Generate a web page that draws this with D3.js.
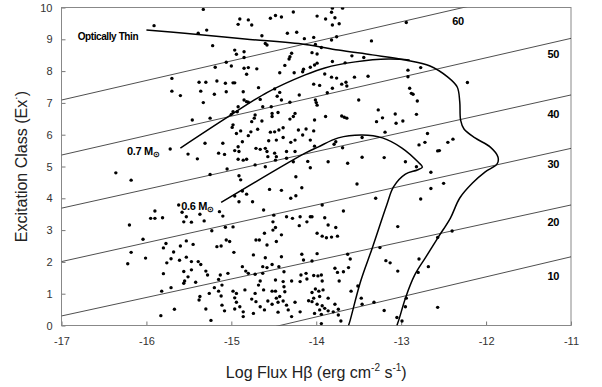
<!DOCTYPE html>
<html>
<head>
<meta charset="utf-8">
<script src="https://cdn.jsdelivr.net/npm/d3@7"></script>
<style>
  body { margin: 0; background: #fff; }
  text { font-family: "Liberation Sans", Arial, sans-serif; }
</style>
</head>
<body>
<div id="chart"></div>
<script>
// Excitation class vs log H-beta flux, with iso-temperature lines and tracks

const width = 602;
const height = 387;

const xTicks = [-17, -16, -15, -14, -13, -12, -11];
const yTicks = [0, 1, 2, 3, 4, 5, 6, 7, 8, 9, 10];

// iso lines: [label, y at x=-17, y at x=-11]
const isoLabels = ["10", "20", "30", "40", "50", "60"];
const isoStart = [-1.62, 0.30, 2.01, 3.69, 5.36, 7.09];
const isoEnd = [2.16, 3.79, 5.57, 7.25, 9.03, 10.78];
// where each iso label sits (data coords)
const isoLabelPos = [[-11.21, 1.56], [-11.21, 3.26], [-11.21, 5.08], [-11.21, 6.65], [-11.21, 8.54], [-12.33, 9.58]];

// optically thin boundary and its loop
const thinCurve = [
  [-16.00, 9.29], [-15.55, 9.19], [-14.84, 9.01], [-14.13, 8.84], [-13.74, 8.66],
  [-13.34, 8.51], [-12.95, 8.35], [-12.66, 8.16], [-12.45, 7.81], [-12.34, 7.50],
  [-12.31, 7.03], [-12.30, 6.46], [-12.26, 6.18], [-12.13, 5.90], [-11.95, 5.61],
  [-11.86, 5.30], [-11.87, 5.08], [-12.01, 4.83], [-12.16, 4.48], [-12.31, 4.01],
  [-12.42, 3.38], [-12.57, 2.75], [-12.71, 2.15], [-12.84, 1.59], [-12.95, 0.86],
  [-13.02, 0.24], [-13.05, 0.00]
];
const track07 = [
  [-15.60, 5.58], [-15.04, 6.56], [-14.57, 7.34], [-14.13, 7.88], [-13.90, 8.10],
  [-13.54, 8.29], [-13.15, 8.38], [-12.90, 8.35]
];
const track06 = [
  [-15.12, 3.87], [-14.13, 5.42], [-13.98, 5.61], [-13.74, 5.90], [-13.46, 5.99],
  [-13.22, 5.90], [-12.99, 5.58], [-12.80, 5.14], [-12.75, 4.98], [-12.81, 4.89],
  [-12.95, 4.76], [-13.09, 4.36], [-13.17, 3.79], [-13.34, 2.44], [-13.48, 1.37],
  [-13.60, 0.17], [-13.62, 0.00]
];

// observed nebulae [log flux, excitation class]
const nebulae = [
  [-15.91,9.43],[-15.70,7.77],[-15.70,7.37],[-15.60,7.23],[-15.72,5.55],[-15.51,5.39],
  [-16.36,4.80],[-16.18,4.57],[-15.62,3.79],[-15.58,3.56],[-15.53,3.42],[-15.56,3.26],
  [-15.90,3.60],[-15.95,3.37],[-15.90,3.37],[-15.81,3.39],[-16.20,3.16],[-16.04,2.71],
  [-15.77,2.58],[-15.80,2.44],[-15.53,2.66],[-15.60,2.50],[-15.68,2.31],[-16.18,2.30],
  [-16.01,2.12],[-16.22,1.94],[-15.71,2.10],[-15.76,1.97],[-15.61,2.05],[-15.53,2.15],
  [-15.80,1.63],[-15.56,1.70],[-15.51,1.53],[-15.55,1.40],[-15.56,1.33],[-15.71,1.19],
  [-15.82,1.08],[-15.67,0.51],[-15.83,0.31],
  [-15.33,9.94],[-14.90,9.64],[-14.92,9.47],[-14.80,9.61],[-14.76,9.45],[-14.54,9.66],
  [-14.48,9.75],[-14.41,9.70],[-14.27,9.86],[-15.39,9.19],[-15.29,9.29],[-14.64,9.11],
  [-14.60,8.87],[-14.58,8.82],[-14.34,9.19],[-14.23,9.22],[-14.14,9.02],[-15.22,8.80],
  [-14.96,8.66],[-14.94,8.53],[-14.85,8.61],[-14.85,8.43],[-14.29,8.56],[-14.31,8.45],
  [-14.32,8.38],[-14.37,8.18],[-15.06,8.28],[-15.19,8.12],[-15.00,8.16],[-14.85,8.09],
  [-14.80,8.11],[-14.82,7.90],[-14.70,8.07],[-14.43,7.95],[-14.26,7.95],[-14.15,8.06],
  [-14.16,7.98],[-15.38,7.65],[-15.30,7.65],[-15.17,7.69],[-15.07,7.62],[-14.98,7.63],
  [-14.96,7.63],[-15.36,7.37],[-15.20,7.27],[-15.06,7.35],[-14.86,7.35],[-14.68,7.48],
  [-14.49,7.44],[-14.43,7.33],[-14.46,7.21],[-14.41,7.09],[-14.20,7.25],[-15.33,7.01],
  [-14.85,7.09],[-14.82,7.04],[-14.80,7.02],[-14.66,7.11],[-14.92,6.88],[-14.93,6.72],
  [-14.98,6.72],[-15.00,6.64],[-14.63,6.88],[-14.53,6.88],[-14.31,7.02],[-14.52,6.67],
  [-14.45,6.70],[-14.52,6.57],[-14.25,6.67],[-14.27,6.57],[-14.31,6.49],[-15.46,6.46],
  [-15.25,6.52],[-14.72,6.62],[-14.73,6.52],[-14.76,6.41],[-14.64,6.43],[-14.98,6.31],
  [-14.99,6.23],[-14.69,6.17],[-14.77,6.09],[-14.89,6.12],[-14.80,5.97],[-14.94,6.04],
  [-14.54,6.08],[-14.49,6.09],[-14.44,6.15],[-14.39,6.22],[-14.21,6.15],[-14.12,6.18],
  [-14.16,5.99],[-14.25,5.83],[-14.30,5.76],[-14.39,5.91],[-14.47,5.83],[-14.56,5.81],
  [-14.87,5.78],[-15.31,5.73],[-15.10,5.73],[-14.92,5.62],[-14.96,5.50],[-14.91,5.47],
  [-14.71,5.57],[-14.66,5.54],[-14.60,5.57],[-14.58,5.47],[-14.49,5.42],[-14.57,5.31],
  [-14.47,5.31],[-14.35,5.47],[-14.25,5.47],[-15.40,5.24],[-15.15,5.42],[-15.08,5.38],
  [-14.92,5.23],[-14.86,5.20],[-14.82,5.23],[-14.48,5.20],[-14.35,5.26],[-14.27,5.15],
  [-14.10,5.16],
  [-15.25,4.75],[-15.05,4.92],[-14.91,4.71],[-14.89,4.58],[-14.72,5.05],[-14.60,4.99],
  [-14.24,4.68],[-14.17,4.33],[-14.55,4.28],[-14.41,4.25],[-14.87,4.23],[-14.82,4.13],
  [-14.96,4.07],[-14.75,3.89],[-14.91,3.89],[-14.24,4.08],[-14.30,4.00],[-14.62,3.63],
  [-14.50,3.47],[-14.51,3.26],[-14.35,3.42],[-14.28,3.37],[-14.19,3.42],[-14.20,3.14],
  [-14.48,3.08],[-15.47,3.25],[-15.37,3.50],[-15.32,3.29],[-15.14,3.58],[-15.10,3.44],
  [-15.07,3.09],[-14.98,3.10],[-15.23,2.98],[-14.61,2.90],[-14.51,3.00],[-14.41,2.85],
  [-14.71,2.69],[-14.67,2.69],[-14.58,2.53],[-14.47,2.64],[-15.45,2.55],[-15.17,2.48],
  [-15.12,2.50],[-15.06,2.69],[-15.02,2.64],[-14.97,2.30],[-14.74,2.22],[-14.60,2.13],
  [-14.41,2.16],[-14.17,2.24],[-14.15,2.06],[-15.47,2.01],[-15.39,2.01],[-15.36,1.92],
  [-15.47,1.75],[-15.30,1.71],[-15.28,1.59],[-15.42,1.36],[-15.13,1.59],[-15.04,1.64],
  [-15.15,1.45],[-15.11,1.27],[-14.87,1.85],[-14.83,1.71],[-14.80,1.64],[-14.72,1.61],
  [-14.63,1.85],[-14.58,1.82],[-14.52,1.92],[-14.44,1.85],[-14.38,1.69],[-14.63,1.64],
  [-14.48,1.43],[-14.18,1.59],[-14.12,1.64],[-14.19,1.38],[-14.11,1.46],[-14.29,1.40],
  [-14.39,1.38],[-14.38,1.22],[-14.37,1.06],[-14.43,0.91],[-14.66,1.40],[-14.68,1.27],
  [-14.62,1.12],[-14.52,1.08],[-14.48,1.08],[-14.72,1.01],[-14.84,1.12],[-14.98,1.08],
  [-14.94,1.01],[-14.96,0.87],[-15.20,1.19],[-15.15,1.08],[-15.12,0.93],[-15.26,1.01],
  [-15.37,0.91],[-15.38,0.80],[-15.30,0.52],[-15.11,0.64],[-15.08,0.46],[-14.94,0.73],
  [-14.90,0.59],[-14.96,0.52],[-14.86,0.43],[-14.76,0.83],[-14.71,0.75],[-14.66,0.59],
  [-14.61,0.49],[-14.74,0.38],[-14.57,0.77],[-14.47,0.86],[-14.45,0.73],[-14.52,0.67],
  [-14.39,0.77],[-14.35,0.64],[-14.33,0.49],[-14.45,0.42],[-14.25,0.73],[-14.19,0.43],
  [-14.29,0.28],[-14.86,0.28],[-15.24,0.16],[-14.09,0.78],
  [-13.81,9.98],[-13.69,9.98],[-13.82,9.85],[-13.99,9.73],[-13.89,9.64],[-13.78,9.68],
  [-13.73,9.49],[-13.81,9.45],[-12.94,9.53],[-13.76,9.08],[-13.82,8.98],[-13.35,8.95],
  [-14.03,9.06],[-14.01,8.84],[-13.94,8.74],[-14.05,8.58],[-13.99,8.54],[-13.58,8.48],
  [-13.44,8.43],[-13.81,8.30],[-13.66,8.26],[-13.99,8.25],[-14.02,8.19],[-14.07,8.12],
  [-12.92,8.03],[-12.77,8.11],[-12.92,7.82],[-13.90,7.91],[-13.82,7.81],[-13.76,7.78],
  [-13.55,7.81],[-13.39,7.84],[-14.03,7.59],[-13.96,7.55],[-13.81,7.46],[-13.70,7.59],
  [-13.65,7.65],[-13.64,7.53],[-13.87,7.32],[-12.90,7.46],[-12.88,7.30],[-12.86,7.27],
  [-12.81,7.06],[-13.50,7.09],[-14.01,7.09],[-14.00,7.01],[-13.99,6.93],[-13.27,6.78],
  [-13.07,6.65],[-12.82,6.64],[-13.89,6.57],[-13.70,6.59],[-13.67,6.55],[-13.64,6.52],
  [-14.02,6.46],[-13.22,6.53],[-13.29,6.41],[-13.06,6.36],[-12.98,6.43],[-14.03,6.12],
  [-13.19,6.08],[-14.07,5.83],[-14.02,5.64],[-13.77,5.78],[-13.79,5.70],[-13.69,5.59],
  [-13.46,5.91],[-12.79,5.68],[-12.72,5.76],[-13.86,5.15],[-13.63,5.10],[-13.46,5.29],
  [-13.20,5.28],[-12.95,5.15],
  [-14.07,4.96],[-12.82,4.99],[-13.52,4.45],[-13.30,4.00],[-12.77,3.98],[-13.93,3.79],
  [-13.68,3.60],[-14.07,3.42],[-14.05,3.42],[-13.90,3.39],[-14.11,3.26],[-13.86,3.16],
  [-13.77,3.08],[-13.99,2.90],[-13.93,2.81],[-13.88,2.76],[-13.82,2.78],[-13.75,2.81],
  [-13.04,3.11],[-13.25,2.45],[-13.99,2.26],[-13.63,2.24],[-13.60,2.09],[-14.05,2.03],
  [-13.18,2.04],[-13.13,1.97],[-12.79,2.09],[-13.78,1.80],[-13.75,1.67],[-13.68,1.69],
  [-13.62,1.82],[-13.04,1.71],[-12.80,1.67],[-12.68,1.85],[-14.03,1.57],[-13.98,1.56],
  [-13.94,1.59],[-13.93,1.40],[-13.73,1.40],[-14.01,1.15],[-13.97,1.08],[-14.05,1.04],
  [-13.92,1.12],[-13.59,1.08],[-13.51,1.24],[-14.03,0.86],[-13.96,0.91],[-13.86,0.86],
  [-14.05,0.75],[-13.99,0.67],[-13.93,0.62],[-13.78,0.67],[-13.96,0.49],[-13.90,0.54],
  [-13.86,0.46],[-13.80,0.43],[-13.74,0.51],[-14.02,0.38],[-13.94,0.35],[-13.74,0.33],
  [-13.71,0.14],[-13.94,0.06],[-13.47,0.86],[-13.46,0.67],[-13.32,0.73],[-13.20,0.47],
  [-12.94,0.86],[-12.95,0.59],[-13.05,0.25],[-12.99,0.14],
  [-12.22,7.64],[-12.69,6.04],[-12.45,5.76],[-12.39,5.86],[-12.57,5.49],[-12.55,5.50],
  [-12.65,4.82],[-12.65,4.31],[-12.50,4.47],[-12.40,2.97],[-12.57,2.77],[-12.57,0.57]
];

const svg = d3.select("#chart")
  .append("svg")
  .attr("width", width)
  .attr("height", height);

const x = d3.scaleLinear().domain([-17, -11]).range([61.5, 571]);
const y = d3.scaleLinear().domain([0, 10]).range([325.5, 7.5]);

// clip for lines running off the box
svg.append("clipPath").attr("id", "plotclip")
  .append("rect")
  .attr("x", x(-17)).attr("y", y(10))
  .attr("width", x(-11) - x(-17)).attr("height", y(0) - y(10));

// axes, ticks point inwards
const xAxis = svg.append("g")
  .attr("transform", `translate(0,${y(0)})`)
  .call(d3.axisBottom(x).tickValues(xTicks).tickFormat(d => String(d))
    .tickSizeInner(-4).tickSizeOuter(0).tickPadding(12));
const yAxis = svg.append("g")
  .attr("transform", `translate(${x(-17)},0)`)
  .call(d3.axisLeft(y).tickValues(yTicks).tickFormat(d => String(d))
    .tickSizeInner(-4).tickSizeOuter(0).tickPadding(9));

[xAxis, yAxis].forEach(g => {
  g.select(".domain").remove();
  g.selectAll(".tick line").attr("stroke", "#777");
  g.selectAll(".tick text").attr("font-size", 11).attr("fill", "#333")
    .style("font-family", "'Liberation Sans', Arial, sans-serif");
});

// frame
svg.append("rect")
  .attr("x", x(-17)).attr("y", y(10))
  .attr("width", x(-11) - x(-17)).attr("height", y(0) - y(10))
  .attr("fill", "none").attr("stroke", "#888").attr("stroke-width", 1);

const plot = svg.append("g").attr("clip-path", "url(#plotclip)");

// iso lines
plot.selectAll(".iso")
  .data(isoLabels)
  .enter()
  .append("line")
    .attr("class", "iso")
    .attr("x1", x(-17))
    .attr("y1", (d, i) => y(isoStart[i]))
    .attr("x2", x(-11))
    .attr("y2", (d, i) => y(isoEnd[i]))
    .attr("stroke", "#222")
    .attr("stroke-width", 0.8);

svg.selectAll(".isolabel")
  .data(isoLabels)
  .enter()
  .append("text")
    .attr("class", "isolabel")
    .attr("x", (d, i) => x(isoLabelPos[i][0]))
    .attr("y", (d, i) => y(isoLabelPos[i][1]))
    .attr("dy", "0.35em")
    .attr("text-anchor", "middle")
    .attr("font-size", 11)
    .attr("font-weight", "bold")
    .attr("letter-spacing", -0.4)
    .attr("fill", "#000")
    .text(d => d);

// tracks
const line = d3.line()
  .x(d => x(d[0]))
  .y(d => y(d[1]))
  .curve(d3.curveCatmullRom.alpha(0.5));

[thinCurve, track07, track06].forEach(pts => {
  plot.append("path")
    .attr("d", line(pts))
    .attr("fill", "none")
    .attr("stroke", "#000")
    .attr("stroke-width", 1.5);
});

// points
plot.selectAll(".pn")
  .data(nebulae)
  .enter()
  .append("circle")
    .attr("class", "pn")
    .attr("cx", d => x(d[0]))
    .attr("cy", d => y(d[1]))
    .attr("r", 1.7)
    .attr("fill", "#000");

// annotations
svg.append("text")
  .attr("x", x(-16.81)).attr("y", y(8.98))
  .attr("font-size", 10).attr("font-weight", "bold")
  .attr("letter-spacing", -0.4)
  .text("Optically Thin");

const m07 = svg.append("text")
  .attr("x", x(-16.23)).attr("y", y(5.36))
  .attr("font-size", 11).attr("font-weight", "bold")
  .attr("letter-spacing", -0.3);
m07.append("tspan").text("0.7 M");
m07.append("tspan").attr("font-size", 8).attr("dy", 2).text("\u2299");

const m06 = svg.append("text")
  .attr("x", x(-15.59)).attr("y", y(3.64))
  .attr("font-size", 11).attr("font-weight", "bold")
  .attr("letter-spacing", -0.3);
m06.append("tspan").text("0.6 M");
m06.append("tspan").attr("font-size", 8).attr("dy", 2).text("\u2299");

// axis titles
const xt = svg.append("text")
  .attr("x", (x(-17) + x(-11)) / 2)
  .attr("y", 378)
  .attr("text-anchor", "middle")
  .attr("font-size", 16)
  .attr("fill", "#222");
xt.append("tspan").text("Log Flux H\u03b2 (erg cm");
xt.append("tspan").attr("font-size", 10).attr("dy", -7).text("-2");
xt.append("tspan").attr("dy", 7).text(" s");
xt.append("tspan").attr("font-size", 10).attr("dy", -7).text("-1");
xt.append("tspan").attr("dy", 7).text(")");

const yt = svg.append("text")
  .attr("transform", `translate(27,${(y(0) + y(10)) / 2}) rotate(-90)`)
  .attr("text-anchor", "middle")
  .attr("font-size", 16)
  .attr("fill", "#222");
yt.append("tspan").text("Excitation Class (Ex");
yt.append("tspan").attr("font-size", 11).attr("dy", -7).text("\u00b7");
yt.append("tspan").attr("dy", 7).text(")");
</script>
</body>
</html>
